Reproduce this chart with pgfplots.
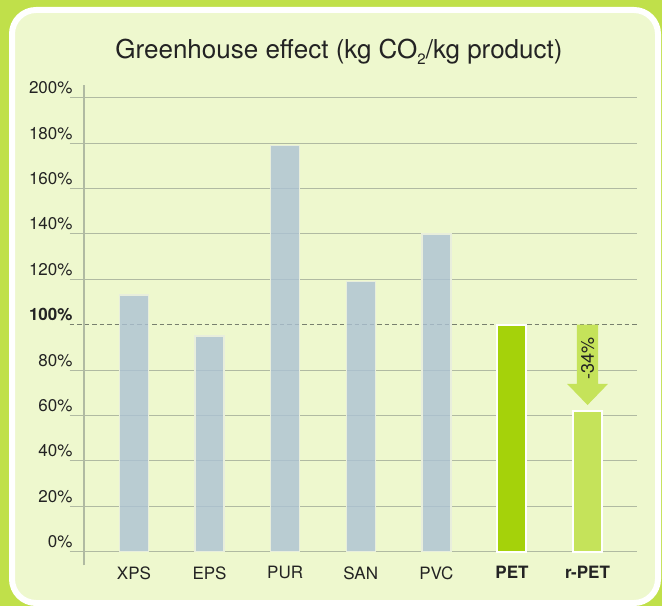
\documentclass[border=0pt]{standalone}
\usepackage{fontspec}
\setmainfont{TeX Gyre Heros}
\usepackage{pgfplots}
\pgfplotsset{compat=1.18}
\definecolor{outer}{RGB}{192,224,74}
\definecolor{panel}{RGB}{238,248,206}
\definecolor{gridc}{RGB}{176,186,162}
\definecolor{dashc}{RGB}{120,128,110}
\definecolor{grayfill}{RGB}{172,194,212}
\definecolor{grayedge}{RGB}{232,238,220}
\definecolor{petc}{RGB}{165,210,10}
\definecolor{rpetc}{RGB}{197,227,90}
\definecolor{txt}{RGB}{35,35,35}
\begin{document}
\begin{tikzpicture}
\fill[outer] (0,0) rectangle (662pt,606pt);
\filldraw[fill=panel, draw=white, line width=6pt, rounded corners=24pt] (12pt,3pt) rectangle (658pt,596pt);
\node[font=\fontsize{26}{31}\selectfont, text=txt] at (339pt,554pt) {Greenhouse effect (kg CO\raisebox{-0.45ex}{\fontsize{15}{18}\selectfont 2}/kg product)};
\begin{axis}[at={(69.7pt,40.7pt)}, anchor=south west, scale only axis,
  width=567pt, height=481.3pt,
  xmin=-0.85, xmax=6.65, ymin=-6, ymax=206,
  axis line style={draw=none}, major tick length=0pt,
  ytick={0,20,40,60,80,120,140,160,180,200},
  yticklabels={0\%,20\%,40\%,60\%,80\%,120\%,140\%,160\%,180\%,200\%},
  ymajorgrids, grid style={gridc, line width=1pt},
  extra y ticks={100}, extra y tick labels={\textbf{100\%}},
  extra y tick style={grid style={dashc, dash pattern=on 4.5pt off 3pt, line width=1.6pt}},
  xtick={0,1,2,3,4,5,6},
  xticklabels={XPS,EPS,PUR,SAN,PVC,\textbf{PET},\textbf{r-PET}},
  tick label style={font=\fontsize{17}{20}\selectfont, text=txt},
  yticklabel style={anchor=base east, inner sep=0pt, xshift=3pt, yshift=4pt},
  xticklabel style={anchor=north, inner sep=0pt, yshift=-1pt},
  clip=false,
]
\addplot[gridc, line width=1.2pt] coordinates {(-0.661,-6) (-0.661,205.5)};
\addplot[ybar, bar width=29pt, bar shift=0pt, fill=grayfill, fill opacity=0.8, draw=grayedge, line width=1.5pt]
  coordinates {(0,113) (1,95) (2,179) (3,119) (4,140)};
\addplot[ybar, bar width=29pt, bar shift=0pt, fill=petc, draw=white, line width=2pt]
  coordinates {(5,100)};
\addplot[ybar, bar width=29pt, bar shift=0pt, fill=rpetc, draw=white, line width=2pt]
  coordinates {(6,62)};
\fill[rpetc] (axis cs:5.86,100) -- (axis cs:6.14,100) -- (axis cs:6.14,73.9) -- (axis cs:6.27,73.9)
  -- (axis cs:6,64.6) -- (axis cs:5.73,73.9) -- (axis cs:5.86,73.9) -- cycle;
\node[rotate=90, font=\fontsize{18}{21}\selectfont, text=txt] at (axis cs:6,85.3) {-34\%};
\end{axis}
\end{tikzpicture}
\end{document}
